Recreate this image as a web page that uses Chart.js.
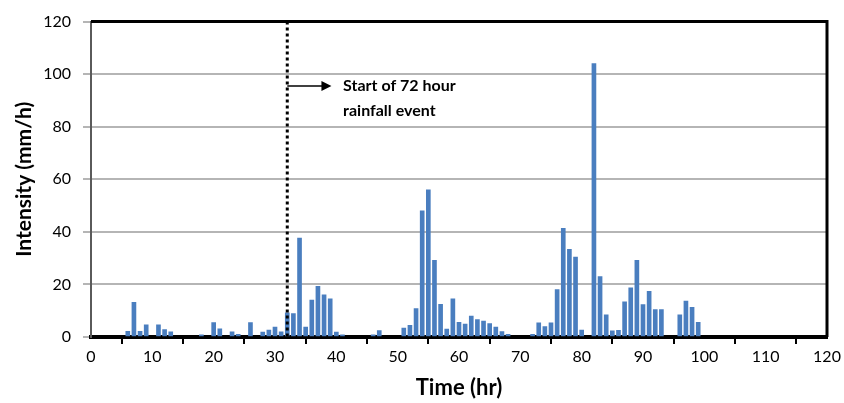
<!DOCTYPE html>
<html lang="en">
<head>
  <meta charset="UTF-8" />
  <title>Rainfall intensity</title>
  <script src="https://cdn.jsdelivr.net/npm/chart.js"></script>
  <style>
    html, body { margin: 0; padding: 0; background: #fff; }
    #wrap { width: 844px; height: 403px; }
  </style>
</head>
<body>
  <div id="wrap"><canvas id="rainChart"></canvas></div>

  <script>
    // hourly rainfall intensity (mm/h)
    const hours = [6, 7, 8, 9, 11, 12, 13, 18, 20, 21, 23, 24, 26, 28, 29, 30, 31, 32, 33, 34, 35, 36, 37, 38, 39, 40, 41,
      46, 47, 51, 52, 53, 54, 55, 56, 57, 58, 59, 60, 61, 62, 63, 64, 65, 66, 67, 68,
      72, 73, 74, 75, 76, 77, 78, 79, 80, 82, 83, 84, 85, 86, 87, 88, 89, 90, 91, 92, 93, 96, 97, 98, 99];
    const intensity = [2.2, 13.2, 2.2, 4.6, 4.6, 2.8, 2, 0.8, 5.5, 3.1, 2, 1, 5.5, 1.9, 2.6, 3.8, 2, 9.2, 8.9, 37.6, 3.8, 14, 19.3, 16, 14.5, 1.9, 0.8,
      0.8, 2.4, 3.4, 4.4, 10.8, 48, 56, 29.2, 12.4, 3, 14.5, 5.6, 4.9, 8, 6.6, 6.1, 5.1, 3.8, 2.1, 1,
      1, 5.4, 4, 5.4, 18, 41.3, 33.4, 30.4, 2.6, 104, 23, 8.4, 2.3, 2.5, 13.4, 18.7, 29.2, 12.3, 17.4, 10.4, 10.4, 8.4, 13.7, 11.3, 5.6];

    // event marker
    const eventStart = 32;
    const eventLabel = ["Start of 72 hour", "rainfall event"];

    const points = hours.map((h, i) => ({ x: h, y: intensity[i] }));

    // dotted line, arrow, note and frame
    const eventMarker = {
      id: "eventMarker",
      afterDatasetsDraw(chart) {
        const { ctx, chartArea, scales } = chart;
        const x = scales.x.getPixelForValue(eventStart);
        ctx.save();
        // dotted vertical line
        ctx.strokeStyle = "#000";
        ctx.lineWidth = 3;
        ctx.setLineDash([3, 3]);
        ctx.beginPath();
        ctx.moveTo(x, chartArea.top);
        ctx.lineTo(x, chartArea.bottom);
        ctx.stroke();
        ctx.setLineDash([]);

        // arrow
        const ay = scales.y.getPixelForValue(95.5);
        const ax2 = scales.x.getPixelForValue(39.2);
        ctx.lineWidth = 1.5;
        ctx.beginPath();
        ctx.moveTo(x, ay);
        ctx.lineTo(ax2 - 8, ay);
        ctx.stroke();
        ctx.beginPath();
        ctx.moveTo(ax2, ay);
        ctx.lineTo(ax2 - 10, ay - 5);
        ctx.lineTo(ax2 - 10, ay + 5);
        ctx.closePath();
        ctx.fill();

        // text
        ctx.fillStyle = "#000";
        ctx.font = "bold 16px Lato";
        ctx.textBaseline = "middle";
        ctx.textAlign = "left";
        const tx = scales.x.getPixelForValue(41.1);
        ctx.fillText(eventLabel[0], tx, ay);
        ctx.fillText(eventLabel[1], tx, scales.y.getPixelForValue(86.2));

        // frame: top and right in black
        ctx.lineWidth = 3;
        ctx.beginPath();
        ctx.moveTo(chartArea.left, chartArea.top);
        ctx.lineTo(chartArea.right, chartArea.top);
        ctx.lineTo(chartArea.right, chartArea.bottom);
        ctx.stroke();
        ctx.restore();
      }
    };

    new Chart(document.getElementById("rainChart"), {
      type: "bar",
      data: {
        datasets: [{
          label: "Intensity",
          data: points,
          backgroundColor: "#4a7ebf",
          borderWidth: 0,
          barThickness: 4
        }]
      },
      options: {
        responsive: true,
        maintainAspectRatio: false,
        animation: false,
        layout: { padding: { top: 10, right: 17, left: 0, bottom: 0 } },
        plugins: {
          legend: { display: false },
          tooltip: { enabled: false }
        },
        scales: {
          x: {
            type: "linear",
            min: 0,
            max: 120,
            offset: false,
            ticks: { stepSize: 10, color: "#000", font: { family: "Lato", size: 16 }, padding: 3, maxRotation: 0 },
            grid: { drawOnChartArea: false, drawTicks: true, tickLength: 7, color: "#000", lineWidth: 2 },
            border: { display: true, color: "#000", width: 4 },
            title: { display: true, text: "Time (hr)", color: "#000", font: { family: "Lato", size: 22, weight: "bold" }, padding: { top: 2, bottom: 2 } },
            afterFit(scale) { scale.height = 66; }
          },
          y: {
            min: 0,
            max: 120,
            ticks: { stepSize: 20, color: "#000", font: { family: "Lato", size: 16 }, padding: 12 },
            grid: { color: "#b5b5b5", lineWidth: 2, tickLength: 8 },
            border: { display: true, color: "#5a5a5a", width: 2 },
            title: { display: true, text: "Intensity (mm/h)", color: "#000", font: { family: "Lato", size: 21, weight: "bold" }, padding: { top: 12, bottom: 4 } },
            afterFit(scale) { scale.width = 91; }
          }
        }
      },
      plugins: [eventMarker]
    });
  </script>
</body>
</html>
